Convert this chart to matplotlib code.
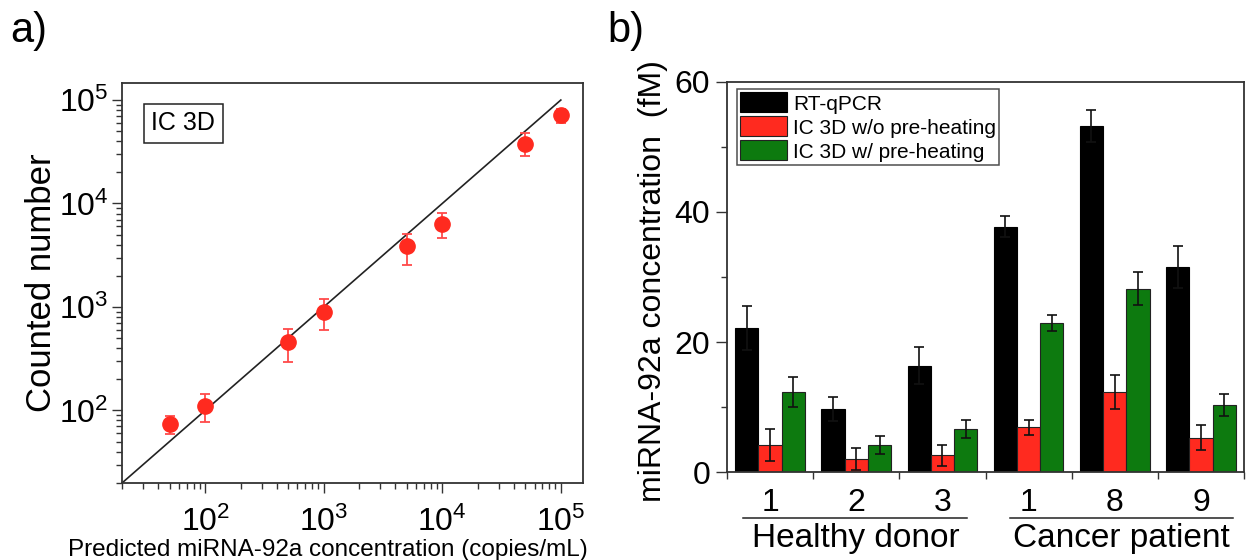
import matplotlib
matplotlib.use("Agg")
import matplotlib.pyplot as plt
import matplotlib.ticker as mticker
import matplotlib.transforms as mtransforms
import numpy as np

plt.rcParams['font.family'] = ['Liberation Sans', 'DejaVu Sans']
plt.rcParams['mathtext.fontset'] = 'custom'
plt.rcParams['mathtext.rm'] = 'Liberation Sans'
plt.rcParams['mathtext.it'] = 'Liberation Sans:italic'

# panel a: calibration data
conc = [50, 100, 500, 1000, 5000, 10000, 50000, 100000]
counted = [74, 111, 454, 893, 3840, 6350, 37600, 71600]
counted_lo = [59, 77, 291, 593, 2550, 4690, 28500, 60000]
counted_hi = [87.5, 145, 611, 1190, 5060, 8050, 48000, 81700]
fit_x = [20, 100000]
fit_y = [20, 100000]

# panel b: patient samples
samples = ['1', '2', '3', '1', '8', '9']
qpcr = [22.2, 9.7, 16.4, 37.7, 53.2, 31.5]
qpcr_err = [3.4, 1.8, 2.9, 1.6, 2.5, 3.2]
no_heat = [4.2, 2.1, 2.6, 6.9, 12.3, 5.3]
no_heat_err = [2.5, 1.7, 1.6, 1.2, 2.6, 1.9]
heat = [12.3, 4.2, 6.7, 22.9, 28.2, 10.4]
heat_err = [2.3, 1.4, 1.4, 1.2, 2.5, 1.7]
series_names = ['RT-qPCR', 'IC 3D w/o pre-heating', 'IC 3D w/ pre-heating']
groups = ['Healthy donor', 'Cancer patient']

red = '#ff2a1f'
green = '#0d7a0f'
spine_col = '#333333'

fig = plt.figure(figsize=(12.47, 5.6), dpi=100)

# ---------------- panel a ----------------
ax1 = fig.add_axes([0.0981, 0.138, 0.3692, 0.7143])
ax1.set_xscale('log')
ax1.set_yscale('log')
ax1.plot(fit_x, fit_y, color='#222222', lw=1.2, zorder=2)
c = np.array(counted)
yerr = [c - np.array(counted_lo), np.array(counted_hi) - c]
ax1.errorbar(conc, counted, yerr=yerr, fmt='o', color=red, ms=11,
             ecolor='#ff4a4a', elinewidth=1.3, capsize=3.5, capthick=1.3, zorder=3)
for ax_ in (ax1.xaxis, ax1.yaxis):
    ax_.set_minor_locator(mticker.LogLocator(base=10, subs=np.arange(2, 10), numticks=20))
    ax_.set_minor_formatter(mticker.NullFormatter())
ax1.set_xticks([1e2, 1e3, 1e4, 1e5])
ax1.set_yticks([1e2, 1e3, 1e4, 1e5])
ax1.set_xlim(20, 1.53e5)
ax1.set_ylim(20, 1.47e5)
ax1.tick_params(which='major', direction='out', length=7, width=1, color=spine_col, labelsize=23)
ax1.tick_params(which='minor', direction='out', length=4, width=1, color=spine_col)
ax1.tick_params(axis='x', which='major', pad=10)
ax1.tick_params(axis='y', which='major', pad=3)
for s in ax1.spines.values():
    s.set_color(spine_col)
    s.set_linewidth(1.3)
ax1.set_xlabel('Predicted miRNA-92a concentration (copies/mL)', fontsize=17.5)
ax1.xaxis.set_label_coords(0.446, -0.141)
ax1.set_ylabel('Counted number', fontsize=25)
ax1.yaxis.set_label_coords(-0.14, 0.5)
ax1.text(0.132, 0.899, 'IC 3D', transform=ax1.transAxes, fontsize=18,
         ha='center', va='center',
         bbox=dict(boxstyle='square,pad=0.3', fc='white', ec='#222222', lw=1.1))

# ---------------- panel b ----------------
ax2 = fig.add_axes([0.583, 0.1566, 0.4146, 0.6975])
x = np.arange(len(samples))
w = 0.27
err_kw = dict(ecolor='#111111', elinewidth=1.2, capsize=3.5, capthick=1.2)
ax2.bar(x - w, qpcr, w, yerr=qpcr_err, color='black', edgecolor='black', lw=0.8,
        label=series_names[0], error_kw=err_kw, zorder=2)
ax2.bar(x, no_heat, w, yerr=no_heat_err, color=red, edgecolor='#222222', lw=0.8,
        label=series_names[1], error_kw=err_kw, zorder=2)
ax2.bar(x + w, heat, w, yerr=heat_err, color=green, edgecolor='#222222', lw=0.8,
        label=series_names[2], error_kw=err_kw, zorder=2)
ax2.set_xlim(-0.5, 5.5)
ax2.set_ylim(0, 60)
ax2.set_xticks(x)
ax2.set_xticklabels(samples)
ax2.set_xticks(np.arange(-0.5, 6.0, 1.0), minor=True)
ax2.set_yticks([0, 20, 40, 60])
ax2.set_yticks([10, 30, 50], minor=True)
ax2.tick_params(axis='x', which='major', length=0, pad=11, labelsize=23)
ax2.tick_params(axis='x', which='minor', direction='out', length=5, width=1, color=spine_col)
ax2.tick_params(axis='y', which='major', direction='out', length=8, width=1, color=spine_col,
                labelsize=23, pad=4)
ax2.tick_params(axis='y', which='minor', direction='out', length=4, width=1, color=spine_col)
for s in ax2.spines.values():
    s.set_color(spine_col)
    s.set_linewidth(1.3)
ax2.set_ylabel('miRNA-92a concentration  (fM)', fontsize=23)
ax2.yaxis.set_label_coords(-0.114, 0.49)

leg = ax2.legend(loc='upper left', bbox_to_anchor=(0.0188, 0.9805), borderaxespad=0,
                 fontsize=15, frameon=True, fancybox=False, edgecolor='#222222',
                 handlelength=2.25, handleheight=1.1, handletextpad=0.3,
                 labelspacing=0.14, borderpad=0.15)
leg.get_frame().set_linewidth(1.1)

# group brackets under the sample numbers
trans = mtransforms.blended_transform_factory(ax2.transData, ax2.transAxes)
spans = [(-0.31, 2.29), (2.79, 5.37)]
for (x0, x1), name in zip(spans, groups):
    ax2.plot([x0, x1], [-0.117, -0.117], transform=trans, color='#222222', lw=1.1,
             clip_on=False)
    ax2.text((x0 + x1) / 2, -0.13, name, transform=trans, ha='center', va='top',
             fontsize=24)

fig.text(0.008, 1 - 42 / 560, 'a)', fontsize=30, va='baseline')
fig.text(0.487, 1 - 42 / 560, 'b)', fontsize=30, va='baseline')

fig.savefig('out.png', dpi=100)
